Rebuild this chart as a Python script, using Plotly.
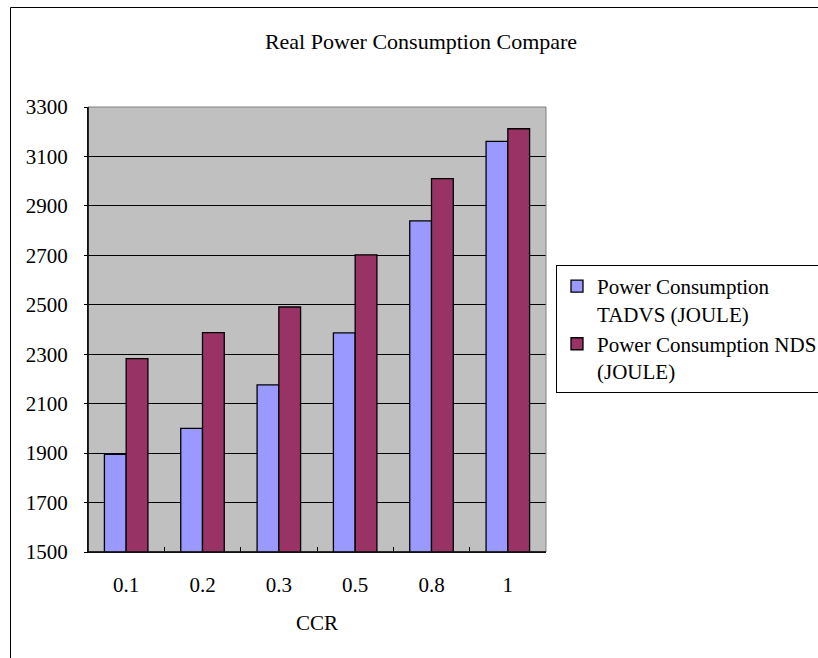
import plotly.graph_objects as go

categories = ["0.1", "0.2", "0.3", "0.5", "0.8", "1"]
tadvs = [1895, 2000, 2176, 2386, 2839, 3161]
nds = [2282, 2387, 2491, 2702, 3010, 3212]
series_names = ["Power Consumption<br>TADVS (JOULE)", "Power Consumption NDS<br>(JOULE)"]
y_ticks = [1500, 1700, 1900, 2100, 2300, 2500, 2700, 2900, 3100, 3300]

FONT = "Liberation Serif, Times New Roman, serif"

fig = go.Figure()
fig.add_trace(go.Bar(x=categories, y=tadvs, name=series_names[0],
                     marker=dict(color="#9999FF", line=dict(color="black", width=1.3))))
fig.add_trace(go.Bar(x=categories, y=nds, name=series_names[1],
                     marker=dict(color="#993366", line=dict(color="black", width=1.3))))

W, H = 818, 658
L, R, T, B = 88, 546, 107, 552
pw, ph = R - L, B - T

def px_x(p):
    return (p - L) / pw

def px_y(p):
    return (B - p) / ph

fig.update_layout(
    width=W, height=H,
    margin=dict(l=L, r=W - R, t=T, b=H - B, autoexpand=False),
    paper_bgcolor="white",
    plot_bgcolor="#C0C0C0",
    font=dict(family=FONT, size=21, color="black"),
    barmode="group",
    bargap=0.43,
    bargroupgap=0,
    showlegend=True,
    title=dict(text="Real Power Consumption Compare", x=421 / W, xanchor="center",
               y=1 - 41 / H, yanchor="middle", font=dict(family=FONT, size=22)),
    legend=dict(x=px_x(556), y=px_y(265), xanchor="left", yanchor="top", valign="top",
                bordercolor="black", borderwidth=1, bgcolor="white",
                font=dict(family=FONT, size=21), tracegroupgap=6),
    xaxis=dict(type="category", showgrid=False, showline=True, linecolor="black", linewidth=1,
               ticks="inside", ticklen=5, tickcolor="black", tickson="boundaries",
               ticklabelstandoff=14, tickfont=dict(family=FONT, size=21)),
    yaxis=dict(range=[1500, 3300], tickvals=y_ticks, showgrid=True, gridcolor="black", gridwidth=1,
               showline=True, linecolor="black", linewidth=1, zeroline=False,
               ticks="outside", ticklen=3, tickcolor="black", ticklabelstandoff=12,
               tickfont=dict(family=FONT, size=21)),
    shapes=[
        dict(type="rect", xref="paper", yref="paper", x0=0, y0=0, x1=1, y1=1,
             line=dict(color="#808080", width=1), layer="above"),
        dict(type="line", xref="paper", yref="paper", x0=0, y0=0, x1=0, y1=1,
             line=dict(color="black", width=1.5), layer="above"),
        dict(type="line", xref="paper", yref="paper", x0=0, y0=0, x1=1, y1=0,
             line=dict(color="black", width=1.5), layer="above"),
        dict(type="rect", xref="paper", yref="paper", x0=px_x(10.5), y0=px_y(700), x1=px_x(860),
             y1=px_y(7.5), line=dict(color="black", width=1), layer="below"),
    ],
    annotations=[
        dict(text="CCR", xref="paper", yref="paper", x=0.5, y=px_y(623), xanchor="center",
             yanchor="middle", showarrow=False, font=dict(family=FONT, size=21)),
    ],
)

fig.write_html("out.html")
